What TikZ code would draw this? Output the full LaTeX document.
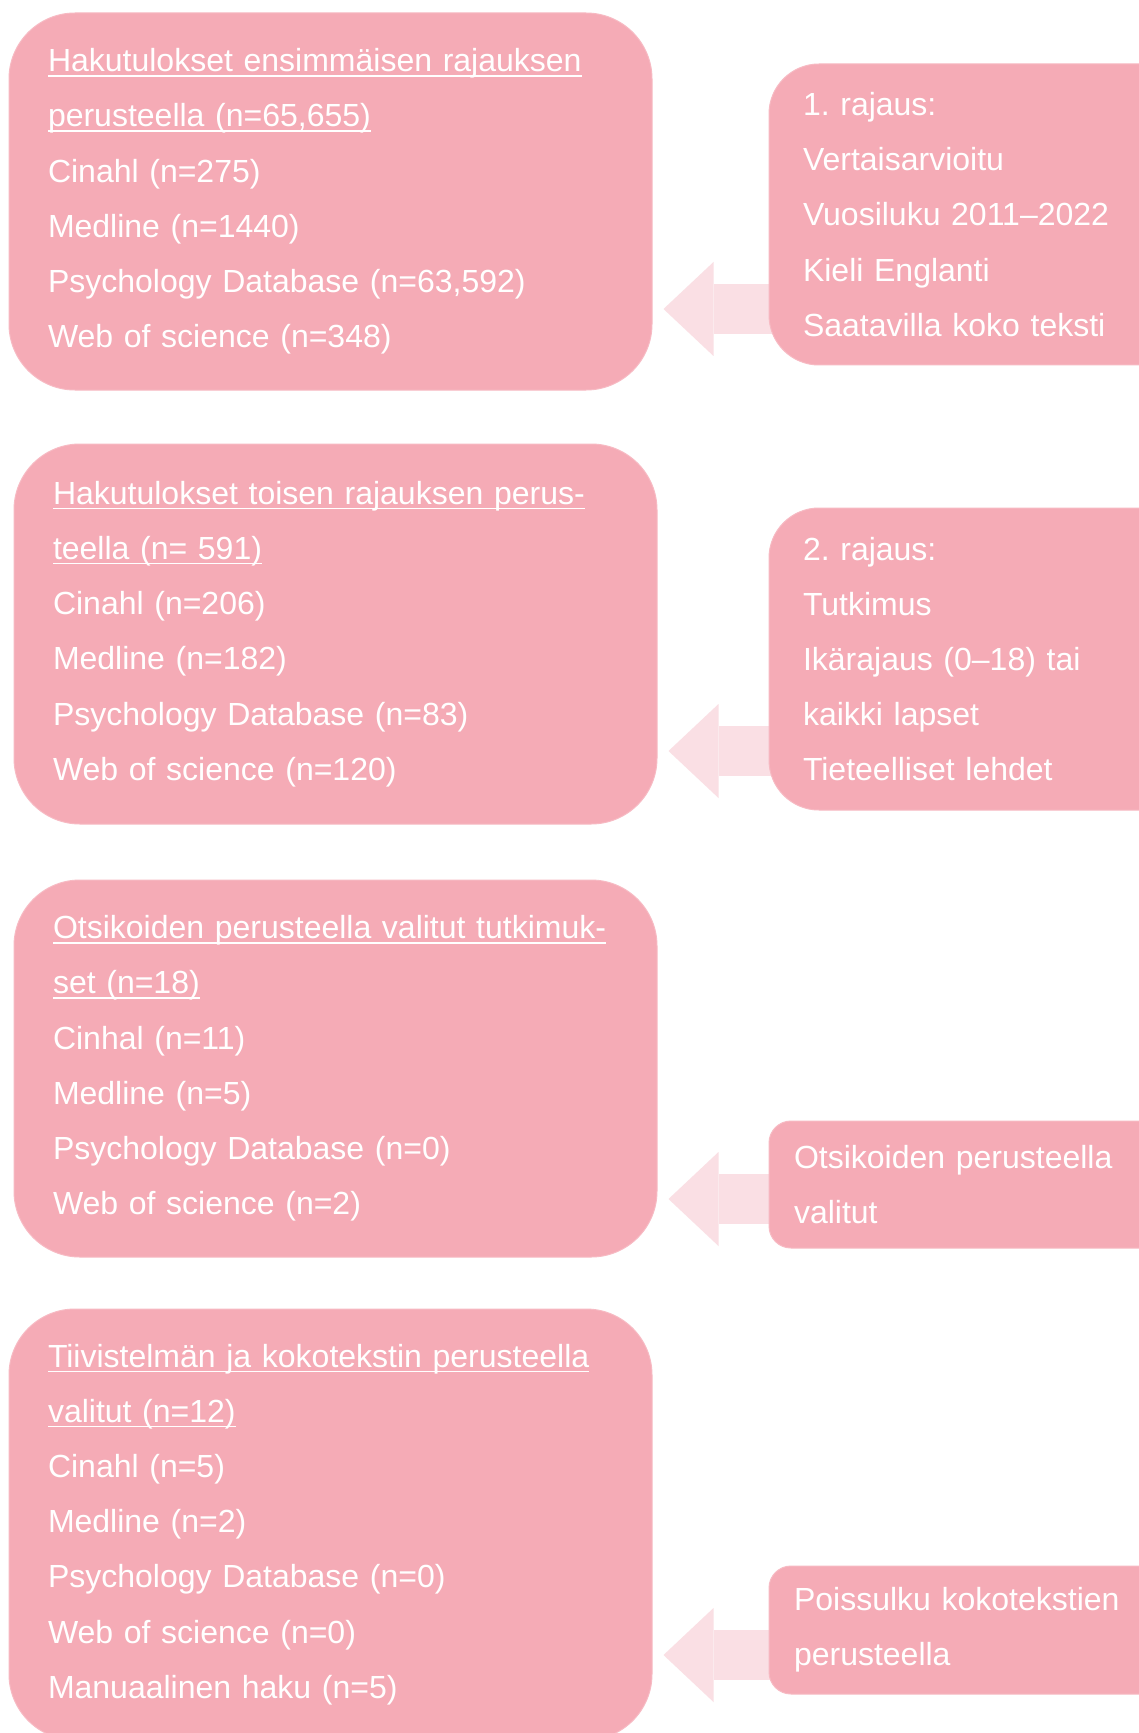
\documentclass[tikz,border=0pt]{standalone}
\usepackage{fontspec}
\setmainfont{Liberation Sans}
\usetikzlibrary{arrows.meta,backgrounds}
\definecolor{boxpink}{HTML}{F5ABB6}
\definecolor{boxline}{HTML}{F7BAC3}
\definecolor{arrowpink}{HTML}{FADFE4}
\newsavebox{\ulbox}
\newcommand{\uln}[1]{\leavevmode\sbox{\ulbox}{#1}\rlap{\rule[-2.5pt]{\wd\ulbox}{0.8pt}}\usebox{\ulbox}}
\frenchspacing

\begin{document}
\begin{tikzpicture}[x=0.5pt,y=-0.5pt,
    box/.style={fill=boxpink,draw=boxline,line width=0.5pt,text=white,align=left,
      font=\fontsize{16}{27.6}\selectfont},
    hbox/.style={box,rounded corners=33pt,text width=282.5pt,inner xsep=19.5pt},
    rbox/.style={box,rounded corners=25pt,text width=176.5pt,inner xsep=17pt},
    pbox/.style={box,rounded corners=11pt,text width=185.5pt,inner xsep=12.5pt},
    blockarrow/.style={draw=arrowpink,line width=25pt,
      -{Triangle[width=47pt,length=25pt,line width=0pt]},
      shorten <=-20pt,shorten >=5.5pt}]
  \useasboundingbox (0,0) rectangle (1139,1733);
  % results after each step
  \node[hbox,minimum height=188.5pt](H1) at (330.5,201.5) {\uln{Hakutulokset ensimmäisen rajauksen}\\
    \uln{perusteella (n=65,655)}\\ Cinahl (n=275)\\ Medline (n=1440)\\
    Psychology Database (n=63,592)\\ Web of science (n=348)};
  \node[hbox,minimum height=190pt](H2) at (335.5,634) {\uln{Hakutulokset toisen rajauksen perus-}\\
    \uln{teella (n= 591)}\\ Cinahl (n=206)\\ Medline (n=182)\\
    Psychology Database (n=83)\\ Web of science (n=120)};
  \node[hbox,minimum height=188.5pt](O) at (335.5,1068.5) {\uln{Otsikoiden perusteella valitut tutkimuk-}\\
    \uln{set (n=18)}\\ Cinhal (n=11)\\ Medline (n=5)\\
    Psychology Database (n=0)\\ Web of science (n=2)};
  \node[hbox,minimum height=215.5pt](T) at (330.5,1524.5) {\uln{Tiivistelmän ja kokotekstin perusteella}\\
    \uln{valitut (n=12)}\\ Cinahl (n=5)\\ Medline (n=2)\\
    Psychology Database (n=0)\\ Web of science (n=0)\\ Manuaalinen haku (n=5)};
  % limits
  \node[rbox,minimum height=150.5pt](R1) at (979.5,214.5) {1. rajaus:\\ Vertaisarvioitu\\
    Vuosiluku 2011–2022\\ Kieli Englanti\\ Saatavilla koko teksti};
  \node[rbox,minimum height=151pt](R2) at (979.5,659) {2. rajaus:\\ Tutkimus\\
    Ikärajaus (0–18) tai\\ kaikki lapset\\ Tieteelliset lehdet};
  \node[pbox,minimum height=63.5pt](P1) at (979.5,1184.5) {Otsikoiden perusteella\\ valitut};
  \node[pbox,minimum height=64pt](P2) at (979.5,1630) {Poissulku kokotekstien\\ perusteella};
  \coordinate (a1) at (0,309);
  \coordinate (a2) at (0,751);
  \coordinate (a3) at (0,1199);
  \coordinate (a4) at (0,1655);
  \begin{scope}[on background layer]
    \fill[white] (0,0) rectangle (1139,1733);
    \draw[blockarrow] (R1.west |- a1) -- (H1.east |- a1);
    \draw[blockarrow] (R2.west |- a2) -- (H2.east |- a2);
    \draw[blockarrow] (P1.west |- a3) -- (O.east |- a3);
    \draw[blockarrow] (P2.west |- a4) -- (T.east |- a4);
  \end{scope}
\end{tikzpicture}
\end{document}
